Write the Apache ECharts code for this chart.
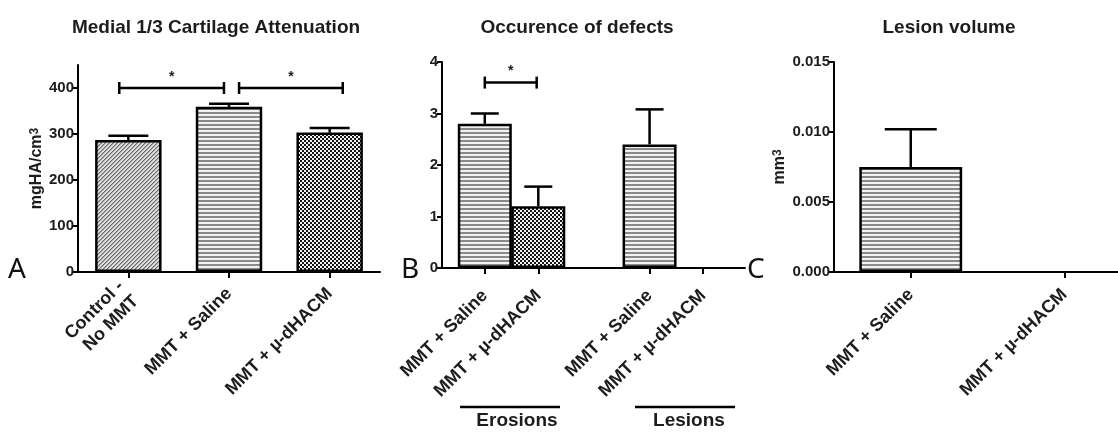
<!DOCTYPE html>
<html><head><meta charset="utf-8">
<script src="https://cdn.jsdelivr.net/npm/echarts@6/dist/echarts.min.js"></script>
<style>html,body{margin:0;padding:0;background:#fff}#c{width:1118px;height:435px}</style>
</head><body><div id="c"></div>
<script>
// ---------- data ----------
const catA = ['Control -\nNo MMT', 'MMT + Saline', 'MMT + µ-dHACM'];
const meanA = [287, 359, 303];
const semA = [9, 7, 10];
const ticksA = [0, 100, 200, 300, 400];
const sigA = [[0, 1, 400], [1, 2, 400]];

const catB = ['MMT + Saline', 'MMT + µ-dHACM', 'MMT + Saline', 'MMT + µ-dHACM'];
const groupB = ['Erosions', 'Erosions', 'Lesions', 'Lesions'];
const meanB = [2.8, 1.2, 2.4, 0];
const semB = [0.2, 0.38, 0.68, 0];
const sigB = [[0, 1, 3.6]];

const catC = ['MMT + Saline', 'MMT + µ-dHACM'];
const meanC = [0.0075, 0];
const semC = [0.0027, 0];

// ---------- styles ----------
const FONT = 'Liberation Sans, Arial, sans-serif';
const INK = '#1c1c1c';
function makePattern(w, h, draw) {
  const c = document.createElement('canvas');
  c.width = w; c.height = h;
  draw(c.getContext('2d'));
  return { image: c, repeat: 'repeat' };
}
const patDiag = makePattern(4, 4, g => {
  g.fillStyle = '#dcdcdc'; g.fillRect(0, 0, 4, 4);
  for (let i = 0; i < 4; i++) {
    g.fillStyle = '#6a6a6a'; g.fillRect(i, 3 - i, 1, 1);
    g.fillStyle = '#a8a8a8'; g.fillRect(i, (4 - i) % 4, 1, 1);
  }
});
const patHoriz = makePattern(4, 4, g => {
  g.fillStyle = '#f2f2f2'; g.fillRect(0, 0, 4, 4);
  g.fillStyle = '#8a8a8a'; g.fillRect(0, 0, 4, 2);
});
const patCheck = makePattern(4, 4, g => {
  g.fillStyle = '#f4f4f4'; g.fillRect(0, 0, 4, 4);
  g.fillStyle = '#141414'; g.fillRect(0, 0, 2, 2); g.fillRect(2, 2, 2, 2);
});
const patA = [patDiag, patHoriz, patCheck];
const patB = [patHoriz, patCheck, patHoriz, patCheck];
const patC = [patHoriz, patCheck];

// B: grouped positions on a linear x scale (bars of a group touch)
const groupsB = [...new Set(groupB)];
const xB = catB.map((c, i) => {
  const g = groupsB.indexOf(groupB[i]);
  const k = groupB.slice(0, i).filter(v => v === groupB[i]).length;
  return 0.8 + g * 3.08 + k;
});

const line2 = { show: true, lineStyle: { color: '#000', width: 2 } };
const tick = { show: true, length: 6, lineStyle: { color: '#000', width: 2 } };
const yLabel = { color: INK, fontFamily: FONT, fontWeight: 'bold', fontSize: 15, margin: 4 };
const xLabelBase = { rotate: 45, color: INK, fontFamily: FONT, fontWeight: 'bold', fontSize: 18, lineHeight: 21, interval: 0 };
const xLabel = m => Object.assign({ margin: m }, xLabelBase);
const nameStyle = {
  fontFamily: FONT, fontWeight: 'bold', fontSize: 16, color: INK,
  rich: { s: { fontFamily: FONT, fontWeight: 'bold', fontSize: 12, color: INK, verticalAlign: 'top', lineHeight: 16 } }
};
const barItem = v => ({ borderColor: '#000', borderWidth: v === 0 ? 0 : 2.5 });

function errRender(capW) {
  return (params, api) => {
    const x = api.value(0), m = api.value(1), e = api.value(2);
    if (!e) return null;
    const p0 = api.coord([x, m]), p1 = api.coord([x, m + e]);
    const st = { stroke: '#000', lineWidth: 2.5 };
    return { type: 'group', children: [
      { type: 'line', shape: { x1: p0[0], y1: p0[1], x2: p1[0], y2: p1[1] }, style: st },
      { type: 'line', shape: { x1: p1[0] - capW / 2, y1: p1[1], x2: p1[0] + capW / 2, y2: p1[1] }, style: st }
    ] };
  };
}
function bracketRender(toPx) {
  return (params, api) => {
    const y = api.value(2);
    const [xa, xb] = toPx(params.dataIndex, api.value(0), api.value(1), api);
    const py = api.coord([0, y])[1];
    const st = { stroke: '#000', lineWidth: 2.5 };
    return { type: 'group', children: [
      { type: 'line', shape: { x1: xa, y1: py, x2: xb, y2: py }, style: st },
      { type: 'line', shape: { x1: xa, y1: py - 6, x2: xa, y2: py + 6 }, style: st },
      { type: 'line', shape: { x1: xb, y1: py - 6, x2: xb, y2: py + 6 }, style: st },
      { type: 'text', x: (xa + xb) / 2, y: py - 11, style: { text: '*', fill: INK, font: 'bold 14px ' + FONT, textAlign: 'center', textVerticalAlign: 'middle' } }
    ] };
  };
}
const insetA = [[-0.09, -0.05], [0.1, 0.13]];
const titleStyle = { fontFamily: FONT, fontWeight: 'bold', fontSize: 19, color: INK };
const letterFont = '28px Noto Sans, sans-serif';

const option = {
  animation: false,
  backgroundColor: '#fff',
  title: [
    { text: 'Medial 1/3 Cartilage Attenuation', left: 216, top: 18, textAlign: 'center', padding: 0, textStyle: titleStyle },
    { text: 'Occurence of defects', left: 577, top: 18, textAlign: 'center', padding: 0, textStyle: titleStyle },
    { text: 'Lesion volume', left: 949, top: 18, textAlign: 'center', padding: 0, textStyle: titleStyle }
  ],
  grid: [
    { left: 78, top: 65, width: 302, height: 207, outerBoundsMode: 'none', containLabel: false },
    { left: 442, top: 62, width: 303, height: 206, outerBoundsMode: 'none', containLabel: false },
    { left: 834, top: 62, width: 307, height: 210, outerBoundsMode: 'none', containLabel: false }
  ],
  xAxis: [
    { gridIndex: 0, type: 'category', data: catA, axisLine: line2,
      axisTick: Object.assign({ alignWithLabel: true }, tick), axisLabel: xLabel(19) },
    { gridIndex: 1, type: 'value', min: 0, max: 5.664, axisLine: line2, splitLine: { show: false },
      axisTick: Object.assign({ customValues: xB }, tick),
      axisLabel: Object.assign({ customValues: xB,
        formatter: v => catB[xB.findIndex(p => Math.abs(p - v) < 1e-6)] || '' }, xLabel(25)) },
    { gridIndex: 2, type: 'category', data: catC, axisLine: line2,
      axisTick: Object.assign({ alignWithLabel: true }, tick), axisLabel: xLabel(20) }
  ],
  yAxis: [
    { gridIndex: 0, type: 'value', min: 0, max: 450, axisLine: line2, splitLine: { show: false },
      axisTick: Object.assign({ customValues: ticksA }, tick, { length: 5 }),
      axisLabel: Object.assign({ customValues: ticksA }, yLabel),
      name: 'mgHA/cm{s|3}', nameLocation: 'middle', nameGap: 31, nameTextStyle: nameStyle },
    { gridIndex: 1, type: 'value', min: 0, max: 4, interval: 1, axisLine: line2, splitLine: { show: false },
      axisTick: Object.assign({}, tick, { length: 5 }), axisLabel: yLabel },
    { gridIndex: 2, type: 'value', min: 0, max: 0.015, interval: 0.005, axisLine: line2, splitLine: { show: false },
      axisTick: Object.assign({}, tick, { length: 5 }),
      axisLabel: Object.assign({ formatter: v => v.toFixed(3) }, yLabel),
      name: 'mm{s|3}', nameLocation: 'middle', nameGap: 46, nameTextStyle: nameStyle }
  ],
  series: [
    { type: 'bar', xAxisIndex: 0, yAxisIndex: 0, barWidth: '66%',
      data: meanA.map((v, i) => ({ value: v, itemStyle: Object.assign({ color: patA[i] }, barItem(v)) })) },
    { type: 'custom', xAxisIndex: 0, yAxisIndex: 0, renderItem: errRender(40), encode: { x: 0, y: 1 },
      data: meanA.map((v, i) => [i, v, semA[i]]), z: 3 },
    { type: 'custom', xAxisIndex: 0, yAxisIndex: 0, encode: { x: 0, y: 2 }, z: 3,
      renderItem: bracketRender((idx, a, b, api) => {
        const bw = api.size([1, 0])[0];
        return [api.coord([a, 0])[0] + insetA[idx][0] * bw, api.coord([b, 0])[0] + insetA[idx][1] * bw];
      }),
      data: sigA },

    { type: 'bar', xAxisIndex: 1, yAxisIndex: 1, barWidth: 54,
      data: xB.map((x, i) => ({ value: [x, meanB[i]], itemStyle: Object.assign({ color: patB[i] }, barItem(meanB[i])) })) },
    { type: 'custom', xAxisIndex: 1, yAxisIndex: 1, renderItem: errRender(28), encode: { x: 0, y: 1 },
      data: xB.map((x, i) => [x, meanB[i], semB[i]]), z: 3 },
    { type: 'custom', xAxisIndex: 1, yAxisIndex: 1, encode: { x: 0, y: 2 }, z: 3,
      renderItem: bracketRender((idx, a, b, api) => [api.coord([xB[a], 0])[0], api.coord([xB[b] - 0.03, 0])[0]]),
      data: sigB },

    { type: 'bar', xAxisIndex: 2, yAxisIndex: 2, barWidth: '67%',
      data: meanC.map((v, i) => ({ value: v, itemStyle: Object.assign({ color: patC[i] }, barItem(v)) })) },
    { type: 'custom', xAxisIndex: 2, yAxisIndex: 2, renderItem: errRender(52), encode: { x: 0, y: 1 },
      data: meanC.map((v, i) => [i, v, semC[i]]), z: 3 }
  ],
  graphic: [
    { type: 'text', left: 8, top: 256, style: { text: 'A', font: letterFont, fill: '#111' } },
    { type: 'text', left: 401, top: 256, style: { text: 'B', font: letterFont, fill: '#111' } },
    { type: 'text', left: 747, top: 256, style: { text: 'C', font: letterFont, fill: '#111' } },
    { type: 'line', shape: { x1: 460, y1: 407, x2: 560, y2: 407 }, style: { stroke: '#000', lineWidth: 2.5 } },
    { type: 'line', shape: { x1: 635, y1: 407, x2: 735, y2: 407 }, style: { stroke: '#000', lineWidth: 2.5 } },
    { type: 'text', x: 517, y: 421, style: { text: groupsB[0], font: 'bold 19px ' + FONT, fill: INK, textAlign: 'center', textVerticalAlign: 'middle' } },
    { type: 'text', x: 689, y: 421, style: { text: groupsB[1], font: 'bold 19px ' + FONT, fill: INK, textAlign: 'center', textVerticalAlign: 'middle' } }
  ]
};
const chart = echarts.init(document.getElementById('c'));
chart.setOption(option);
</script>
</body></html>
